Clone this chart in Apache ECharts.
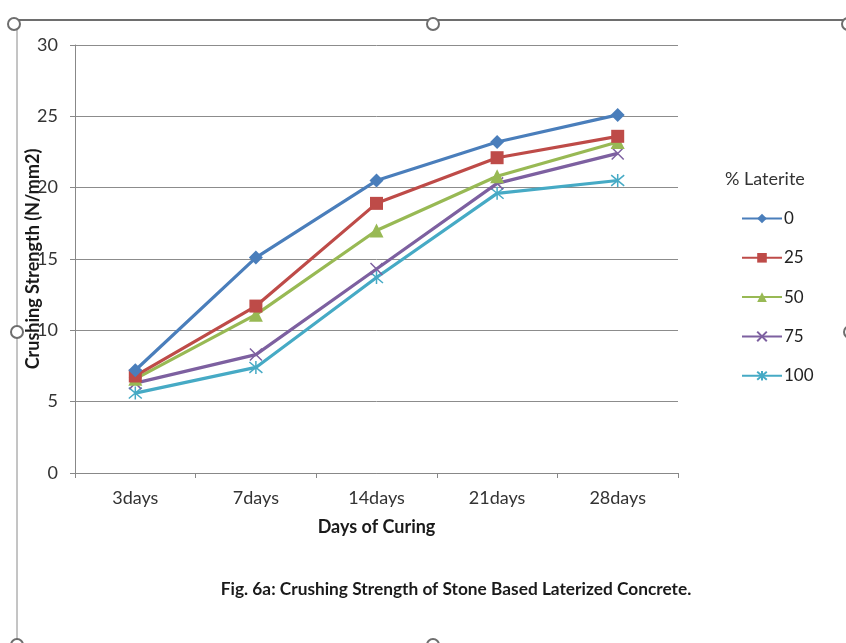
<!DOCTYPE html>
<html>
<head>
<meta charset="utf-8">
<script src="https://cdn.jsdelivr.net/npm/echarts@6/dist/echarts.min.js"></script>
<style>
  html, body { margin: 0; padding: 0; background: #fff; }
  #chart { width: 846px; height: 643px; }
</style>
</head>
<body>
<div id="chart"></div>
<script>
// Curing ages and crushing strength (N/mm2) per % laterite replacement
const categories = ['3days', '7days', '14days', '21days', '28days'];
const seriesNames = ['0', '25', '50', '75', '100'];
const lat0   = [7.2, 15.1, 20.5, 23.2, 25.1];
const lat25  = [6.8, 11.7, 18.9, 22.1, 23.6];
const lat50  = [6.6, 11.1, 17.0, 20.8, 23.2];
const lat75  = [6.3,  8.3, 14.3, 20.3, 22.4];
const lat100 = [5.6,  7.4, 13.7, 19.6, 20.5];
const yTicks = [0, 5, 10, 15, 20, 25, 30];

const colors = ['#4A7EBB', '#BE4B48', '#98B954', '#7D60A0', '#46AAC5'];
const FONT = 'Lato, "Open Sans", sans-serif';

const xMark = 'path://M0,0L10,10M10,0L0,10';
const starMark = 'path://M0,0L10,10M10,0L0,10M5,-1L5,11';

const symbols = ['diamond', 'rect', 'triangle', xMark, starMark];
const symbolSizes = [14, 13, 14, 12, 13];
const values = [lat0, lat25, lat50, lat75, lat100];

const series = seriesNames.map((name, i) => {
  const strokeOnly = i >= 3;
  return {
    name: name,
    type: 'line',
    data: values[i],
    symbol: symbols[i],
    symbolSize: symbolSizes[i],
    showAllSymbol: true,
    lineStyle: { width: 3.2, color: colors[i] },
    itemStyle: strokeOnly
      ? { color: 'rgba(0,0,0,0)', borderColor: colors[i], borderWidth: 1.5 }
      : { color: colors[i], borderWidth: 0 },
    emphasis: { disabled: true },
    z: 10 - i
  };
});

const chart = echarts.init(document.getElementById('chart'), null, { renderer: 'canvas' });

// Selection-frame handles around the embedded chart
const handle = (x, y) => ({
  type: 'circle',
  shape: { cx: x, cy: y, r: 6 },
  style: { fill: '#fff', stroke: '#6e6e6e', lineWidth: 2 },
  z: 100
});

chart.setOption({
  animation: false,
  backgroundColor: '#fff',
  color: colors,
  textStyle: { fontFamily: FONT },
  title: [
    {
      text: 'Fig. 6a: Crushing Strength of Stone Based Laterized Concrete.',
      left: 456, top: 581, textAlign: 'center', padding: 0,
      textStyle: { fontFamily: FONT, fontSize: 17.3, fontWeight: 'bold', color: '#1a1a1a' }
    },
    {
      text: '% Laterite',
      left: 725, top: 170, padding: 0,
      textStyle: { fontFamily: FONT, fontSize: 18, fontWeight: 'normal', color: '#333' }
    }
  ],
  legend: {
    orient: 'vertical',
    left: 741, top: 210,
    padding: 0,
    itemWidth: 40, itemHeight: 12,
    itemGap: 22.3,
    textStyle: { fontFamily: FONT, fontSize: 17, lineHeight: 16, color: '#222', padding: [0, 0, 0, -3] },
    data: seriesNames
  },
  grid: { left: 75, right: 168, top: 45, bottom: 170, containLabel: false },
  xAxis: {
    type: 'category',
    data: categories,
    boundaryGap: true,
    name: 'Days of Curing',
    nameLocation: 'middle',
    nameGap: 45,
    nameMoveOverlap: false,
    nameTextStyle: { fontFamily: FONT, fontSize: 18, fontWeight: 'bold', color: '#1a1a1a' },
    axisLine: { lineStyle: { color: '#888', width: 1 } },
    axisTick: { show: true, length: 5, alignWithLabel: false, lineStyle: { color: '#888' } },
    axisLabel: { fontFamily: FONT, fontSize: 18, color: '#333', margin: 16 },
    splitLine: { show: false }
  },
  yAxis: {
    type: 'value',
    min: yTicks[0], max: yTicks[yTicks.length - 1], interval: 5,
    name: 'Crushing Strength (N/mm2)',
    nameLocation: 'middle',
    nameGap: 33,
    nameMoveOverlap: false,
    nameTextStyle: { fontFamily: FONT, fontSize: 18, fontWeight: 'bold', color: '#1a1a1a' },
    axisLine: { show: true, lineStyle: { color: '#888', width: 1 } },
    axisTick: { show: true, length: 5, lineStyle: { color: '#888' } },
    axisLabel: { fontFamily: FONT, fontSize: 18, color: '#333', margin: 17 },
    splitLine: { show: true, lineStyle: { color: '#8c8c8c', width: 1 } }
  },
  graphic: [
    { type: 'line', shape: { x1: 12, y1: 20, x2: 846, y2: 20 }, style: { stroke: '#6e6e6e', lineWidth: 2 }, z: 99 },
    { type: 'line', shape: { x1: 17, y1: 22, x2: 17, y2: 643 }, style: { stroke: '#8a8a8a', lineWidth: 1 }, z: 99 },
    handle(14, 24), handle(433, 24), handle(848, 24),
    handle(17, 332), handle(850, 332),
    handle(17, 645), handle(433, 645)
  ],
  series: series
});
</script>
</body>
</html>
